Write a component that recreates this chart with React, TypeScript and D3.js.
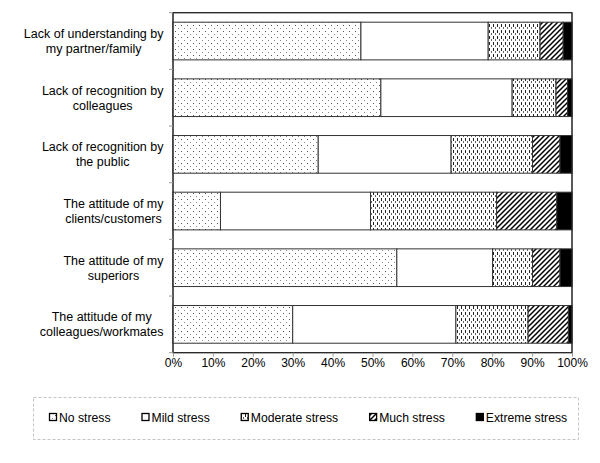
import React, { useEffect, useRef } from "react";
import * as d3 from "d3";

// category labels (already broken into lines as in the figure)
const categories = [
  ["Lack of understanding by", "my partner/family"],
  ["Lack of recognition by", "colleagues"],
  ["Lack of recognition by", "the public"],
  ["The attitude of my", "clients/customers"],
  ["The attitude of my", "superiors"],
  ["The attitude of my", "colleagues/workmates"],
];

const seriesNames = ["No stress", "Mild stress", "Moderate stress", "Much stress", "Extreme stress"];

// percentages per category, in the same order as categories
const noStress = [47.1, 52.1, 36.4, 11.9, 56.1, 30.0];
const mildStress = [31.9, 32.9, 33.3, 37.6, 24.0, 40.9];
const moderateStress = [13.0, 11.0, 20.4, 31.6, 10.0, 18.1];
const muchStress = [5.8, 2.9, 6.9, 15.1, 6.9, 10.1];
const extremeStress = [2.2, 1.1, 3.0, 3.8, 3.0, 0.9];

const xTicks = [0, 10, 20, 30, 40, 50, 60, 70, 80, 90, 100];

const FONT = "'Liberation Sans', Arial, Helvetica, sans-serif";

const App = () => {
  const svgRef = useRef<SVGSVGElement>(null);

  useEffect(() => {
    const svg = d3.select(svgRef.current);
    svg.selectAll("*").remove();

    const width = 600;
    const height = 463;
    const plot = { left: 173, right: 572, top: 12.7, bottom: 352.7 };

    const keys = categories.map((c) => c.join(" "));
    const allSeries = [noStress, mildStress, moderateStress, muchStress, extremeStress];
    const rows = keys.map((k, i) => {
      const r: any = { key: k };
      seriesNames.forEach((s, j) => (r[s] = allSeries[j][i]));
      return r;
    });
    const stacked = d3.stack().keys(seriesNames)(rows);

    const x = d3.scaleLinear().domain([0, 100]).range([plot.left, plot.right]);
    const y = d3
      .scaleBand()
      .domain(keys)
      .range([plot.top, plot.bottom])
      .paddingInner(0.335)
      .paddingOuter(0.1675);

    // patterns
    const defs = svg.append("defs");
    const pDots = defs.append("pattern").attr("id", "p-none").attr("patternUnits", "userSpaceOnUse")
      .attr("width", 6).attr("height", 6);
    pDots.append("rect").attr("width", 6).attr("height", 6).attr("fill", "#fff");
    pDots.append("rect").attr("x", 1).attr("y", 1).attr("width", 1).attr("height", 1).attr("fill", "#555");
    pDots.append("rect").attr("x", 4).attr("y", 4).attr("width", 1).attr("height", 1).attr("fill", "#888");

    const pMild = defs.append("pattern").attr("id", "p-mild").attr("patternUnits", "userSpaceOnUse")
      .attr("width", 4).attr("height", 4);
    pMild.append("rect").attr("width", 4).attr("height", 4).attr("fill", "#fff");

    const pMod = defs.append("pattern").attr("id", "p-mod").attr("patternUnits", "userSpaceOnUse")
      .attr("width", 4).attr("height", 6);
    pMod.append("rect").attr("width", 4).attr("height", 6).attr("fill", "#fff");
    pMod.append("rect").attr("x", 1).attr("y", 0).attr("width", 1).attr("height", 3).attr("fill", "#222");
    pMod.append("rect").attr("x", 3).attr("y", 3).attr("width", 1).attr("height", 2).attr("fill", "#666");

    const pMuch = defs.append("pattern").attr("id", "p-much").attr("patternUnits", "userSpaceOnUse")
      .attr("width", 5).attr("height", 5);
    pMuch.append("rect").attr("width", 5).attr("height", 5).attr("fill", "#fff");
    pMuch.append("path").attr("d", "M-1,1 L1,-1 M0,5 L5,0 M4,6 L6,4")
      .attr("stroke", "#000").attr("stroke-width", 1.5);

    const fills = ["url(#p-none)", "url(#p-mild)", "url(#p-mod)", "url(#p-much)", "#000"];

    // plot frame
    svg.append("rect")
      .attr("x", plot.left).attr("y", plot.top)
      .attr("width", plot.right - plot.left).attr("height", plot.bottom - plot.top)
      .attr("fill", "#fff").attr("stroke", "#222").attr("stroke-width", 1);

    // bars
    svg.append("g")
      .selectAll("g")
      .data(stacked)
      .enter().append("g")
      .attr("fill", (d, i) => fills[i])
      .selectAll("rect")
      .data((d) => d)
      .enter().append("rect")
      .attr("x", (d) => x(d[0]))
      .attr("y", (d: any) => y(d.data.key) as number)
      .attr("width", (d) => x(d[1]) - x(d[0]))
      .attr("height", y.bandwidth())
      .attr("stroke", "#333")
      .attr("stroke-width", 1);

    // frame again on top
    svg.append("rect")
      .attr("x", plot.left).attr("y", plot.top)
      .attr("width", plot.right - plot.left).attr("height", plot.bottom - plot.top)
      .attr("fill", "none").attr("stroke", "#222").attr("stroke-width", 1);

    // y-axis tick marks at band boundaries
    const y0 = y.range()[0];
    svg.append("g")
      .selectAll("line")
      .data(d3.range(keys.length + 1))
      .enter().append("line")
      .attr("x1", plot.left - 4).attr("x2", plot.left)
      .attr("y1", (i) => y0 + i * y.step()).attr("y2", (i) => y0 + i * y.step())
      .attr("stroke", "#999");

    // x axis
    const xAxis = svg.append("g")
      .attr("transform", `translate(0,${plot.bottom})`)
      .call(d3.axisBottom(x).tickValues(xTicks).tickFormat((d) => d + "%").tickSize(4).tickPadding(1.5));
    xAxis.select(".domain").remove();
    xAxis.selectAll("line").attr("stroke", "#999");
    xAxis.selectAll("text").attr("font-family", FONT).attr("font-size", 12).attr("fill", "#000");

    // category labels, lines centred in a block right-aligned at labelRight
    const labelRight = 163.5;
    categories.forEach((lines, i) => {
      const c = (y(keys[i]) as number) + y.bandwidth() / 2;
      const g = svg.append("g");
      const texts = lines.map((ln, j) =>
        g.append("text")
          .attr("y", c + (j === 0 ? -3.2 : 11.8))
          .attr("font-family", FONT).attr("font-size", 12.5)
          .attr("text-anchor", "middle")
          .attr("fill", "#000")
          .text(ln)
      );
      const w = d3.max(texts, (t) => (t.node() as SVGTextElement).getComputedTextLength()) || 0;
      texts.forEach((t) => t.attr("x", labelRight - w / 2));
    });

    // legend
    const legendBox = { x: 33, y: 397, w: 545, h: 42 };
    svg.append("rect")
      .attr("x", legendBox.x + 0.5).attr("y", legendBox.y + 0.5)
      .attr("width", legendBox.w).attr("height", legendBox.h)
      .attr("fill", "none").attr("stroke", "#c4c4c4").attr("stroke-dasharray", "3,2");

    const cy = legendBox.y + legendBox.h / 2;
    let lx = 49;
    seriesNames.forEach((name, i) => {
      svg.append("rect")
        .attr("x", lx + 0.5).attr("y", cy - 4.5)
        .attr("width", 7).attr("height", 7)
        .attr("fill", fills[i]).attr("stroke", "#000").attr("stroke-width", 1.3);
      const t = svg.append("text")
        .attr("x", lx + 10).attr("y", cy + 4.3)
        .attr("font-family", FONT).attr("font-size", 12.2).attr("fill", "#000")
        .text(name);
      lx += 10 + (t.node() as SVGTextElement).getComputedTextLength() + 31;
    });

    svg.attr("width", width).attr("height", height);
  }, []);

  return (
    <svg
      ref={svgRef}
      width={600}
      height={463}
      style={{ position: "absolute", left: 0, top: 0, background: "#fff" }}
    ></svg>
  );
};

export default App;
